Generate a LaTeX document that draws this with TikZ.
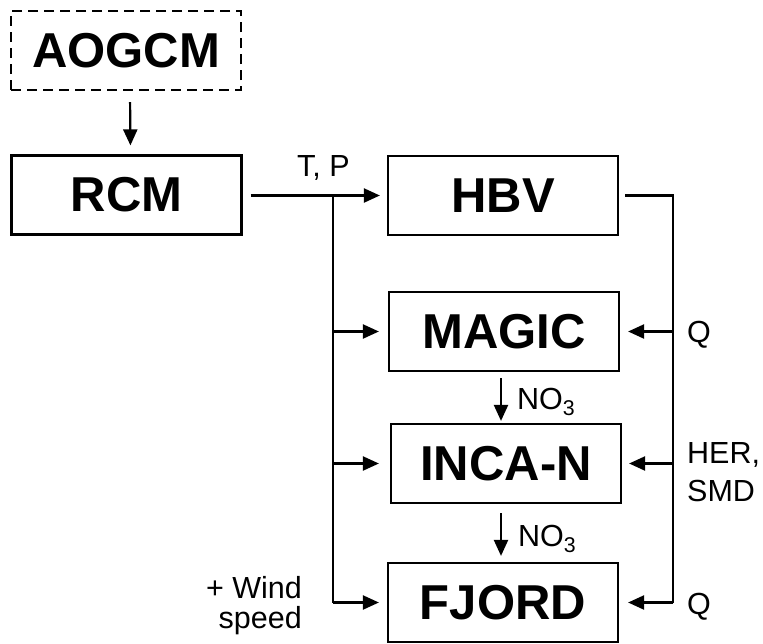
\documentclass[tikz,border=0pt]{standalone}
\usepackage{fontspec}
\setmainfont{Liberation Sans}
\usetikzlibrary{arrows.meta}
\begin{document}
\begin{tikzpicture}[x=1pt,y=-1pt,
  box/.style={draw, line width=2.2pt, minimum width=230pt, minimum height=79pt, inner sep=0pt,
    font=\fontsize{49}{58}\selectfont\bfseries},
  lbl/.style={inner sep=0pt, font=\fontsize{30.5}{36}\selectfont},
  arr/.style={line width=2.2pt, -{Triangle[length=16pt,width=14pt]}},
  ln/.style={line width=2.2pt}]
\useasboundingbox (0,0) rectangle (763,643);
\node[box, dash pattern=on 10pt off 6pt] (aogcm) at (126,50.5) {AOGCM};
\node[box] (rcm) at (126.5,195) {RCM};
\node[box] (hbv) at (503,195.5) {HBV};
\node[box] (magic) at (504,331.5) {MAGIC};
\node[box] (inca) at (506,463.5) {INCA-N};
\node[box] (fjord) at (503,602.5) {FJORD};

\coordinate (busL) at (333,195.5);
\coordinate (busR) at (673,195.5);

\draw[arr, shorten <=11pt, shorten >=9pt] ([xshift=4pt]aogcm.south) -- ([xshift=4pt]rcm.north);
\draw[arr, shorten <=8pt, shorten >=7pt] (rcm.east |- busL) -- (hbv.west |- busL);
\draw[ln] (busL) -- (busL |- fjord.west);
\draw[arr, shorten >=9pt] (busL |- magic.west) -- (magic.west);
\draw[arr, shorten >=11pt] (busL |- inca.west) -- (inca.west);
\draw[arr, shorten >=8pt] (busL |- fjord.west) -- (fjord.west);

\draw[ln, shorten <=6pt] (hbv.east |- busR) -- (busR) -- (busR |- fjord.east);
\draw[arr, shorten >=8pt] (busR |- magic.east) -- (magic.east);
\draw[arr, shorten >=7pt] (busR |- inca.east) -- (inca.east);
\draw[arr, shorten >=9pt] (busR |- fjord.east) -- (fjord.east);

\draw[arr, shorten <=6pt, shorten >=2pt] ([xshift=-3pt]magic.south) -- ([xshift=-3pt]magic.south |- inca.north);
\draw[arr, shorten <=9pt, shorten >=6pt] ([xshift=-5pt]inca.south) -- ([xshift=-5pt]inca.south |- fjord.north);

\node[lbl, anchor=base west] (tp) at (297,176) {T, P};
\node[lbl, anchor=base west] (q1) at (687,342) {Q};
\node[lbl, anchor=base west] (no1) at (517,409) {NO\textsubscript{3}};
\node[lbl, anchor=base west] (her) at (687,463) {HER,};
\node[lbl, anchor=base west] (smd) at (687,501) {SMD};
\node[lbl, anchor=base west] (no2) at (518,546) {NO\textsubscript{3}};
\node[lbl, anchor=base west] (q2) at (687,614) {Q};
\node[lbl, anchor=base east] (wind) at (302,598) {+ Wind};
\node[lbl, anchor=base east] (speed) at (302,628) {speed};
\end{tikzpicture}
\end{document}
